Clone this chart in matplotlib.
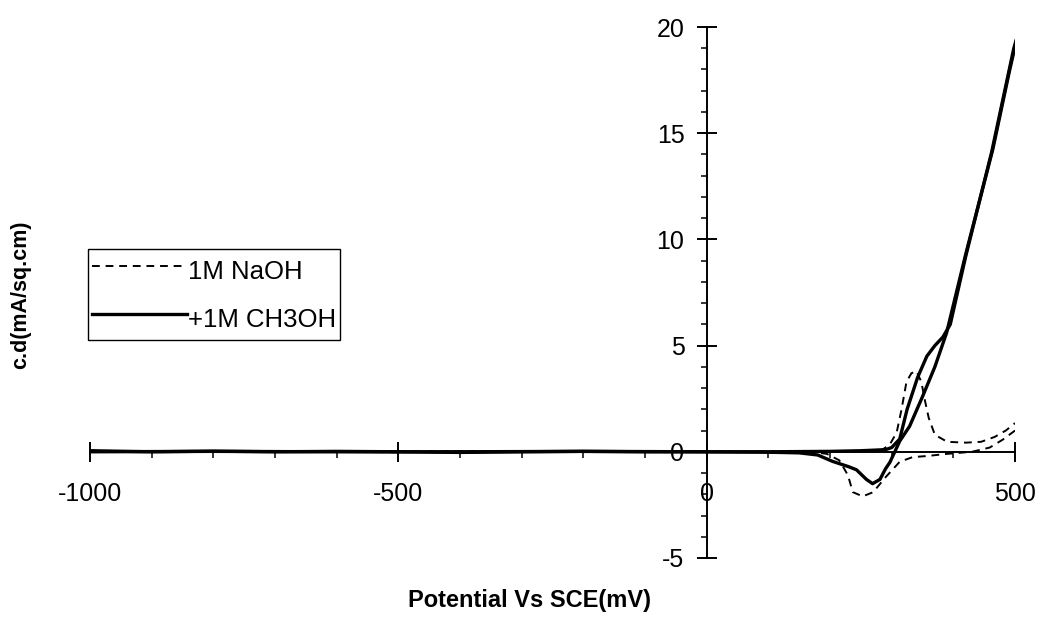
import matplotlib
matplotlib.use("Agg")
import matplotlib.pyplot as plt
from matplotlib.lines import Line2D
from matplotlib.ticker import MultipleLocator

plt.rcParams['font.family'] = ['Liberation Sans', 'DejaVu Sans']
plt.rcParams['axes.unicode_minus'] = False

# 1M NaOH, forward sweep
naoh_fwd_x = [-1000, -900, -800, -700, -600, -500, -400, -300, -200, -100, 0, 100, 200,
              260, 285, 297, 308, 316, 324, 332, 340, 348, 354, 360, 370, 390, 420,
              445, 467, 485, 500]
naoh_fwd_y = [0.05, 0.02, 0.0, 0.03, 0.0, -0.02, 0.02, 0.0, 0.02, 0.0, 0.0, 0.0, 0.0,
              0.02, 0.1, 0.35, 0.9, 2.0, 3.3, 3.7, 3.8, 3.3, 2.4, 1.6, 0.8, 0.47, 0.43,
              0.47, 0.7, 1.0, 1.35]
# 1M NaOH, reverse sweep
naoh_rev_x = [500, 480, 459, 430, 389, 357, 334, 313, 290, 270, 253, 237, 229, 215, 195,
              170, 100, 0, -200, -400, -600, -800, -1000]
naoh_rev_y = [1.0, 0.57, 0.2, 0.0, -0.1, -0.2, -0.25, -0.47, -1.2, -1.9, -2.1, -1.9, -1.1,
              -0.4, -0.1, 0.0, 0.0, 0.0, 0.0, 0.02, 0.0, 0.0, 0.0]

# +1M CH3OH, forward sweep
meoh_fwd_x = [-1000, -900, -800, -700, -600, -500, -400, -300, -200, -100, 0, 100, 150,
              180, 204, 230, 243, 259, 269, 281, 290, 297, 305, 313, 329, 350, 370, 389,
              420, 464, 490, 504]
meoh_fwd_y = [0.05, 0.0, 0.03, 0.0, 0.02, 0.0, -0.03, 0.0, 0.02, 0.0, 0.0, -0.02, -0.05,
              -0.15, -0.45, -0.7, -0.85, -1.3, -1.5, -1.3, -0.8, -0.5, 0.0, 0.5, 1.2, 2.6,
              4.0, 5.6, 9.3, 14.25, 17.8, 19.6]
# +1M CH3OH, reverse sweep
meoh_rev_x = [504, 498, 462, 420, 395, 383, 370, 357, 342, 325, 313, 300, 290, 250, 200,
              100, 0, -200, -400, -600, -800, -1000]
meoh_rev_y = [19.6, 19.0, 14.1, 9.2, 6.0, 5.4, 5.0, 4.5, 3.5, 2.0, 0.6, 0.2, 0.1, 0.05,
              0.02, 0.0, 0.0, 0.02, 0.0, 0.0, 0.02, 0.0]

x_ticks = [-1000, -500, 0, 500]
y_ticks = [-5, 0, 5, 10, 15, 20]

fig = plt.figure(figsize=(10.46, 6.24), dpi=100)
ax = fig.add_axes([0.086, 0.1058, 0.8844, 0.8509])

dash = dict(color='black', lw=1.4, dashes=[4, 3])
ax.plot(naoh_fwd_x, naoh_fwd_y, **dash)
ax.plot(naoh_rev_x, naoh_rev_y, **dash)
ax.plot(meoh_fwd_x, meoh_fwd_y, color='black', lw=2.4)
ax.plot(meoh_rev_x, meoh_rev_y, color='black', lw=2.4)

ax.set_xlim(-1000, 500)
ax.set_ylim(-5, 20)

ax.spines['left'].set_position(('data', 0))
ax.spines['bottom'].set_position(('data', 0))
ax.spines['top'].set_visible(False)
ax.spines['right'].set_visible(False)
for s in ('left', 'bottom'):
    ax.spines[s].set_linewidth(1.4)

ax.set_xticks(x_ticks)
ax.set_yticks(y_ticks)
ax.xaxis.set_minor_locator(MultipleLocator(100))
ax.yaxis.set_minor_locator(MultipleLocator(1))
ax.tick_params(which='major', direction='inout', length=14, width=1.4, labelsize=18)
ax.tick_params(axis='x', which='major', pad=15)
ax.tick_params(axis='y', which='major', pad=9)
ax.tick_params(which='minor', direction='out', length=4, width=1.1)

fig.text(0.506, 0.038, 'Potential Vs SCE(mV)', ha='center', va='center',
         fontsize=17, fontweight='bold')
fig.text(0.02, 0.527, 'c.d(mA/sq.cm)', ha='center', va='center', rotation=90,
         fontsize=15.5, fontweight='bold')

handles = [Line2D([], [], **dash), Line2D([], [], color='black', lw=2.4)]
leg = ax.legend(handles, ['1M NaOH', '+1M CH3OH'], loc='upper left',
                bbox_to_anchor=(0.084, 0.601), bbox_transform=fig.transFigure,
                borderaxespad=0, borderpad=0.15, handleheight=1.7, labelspacing=0.55,
                handlelength=3.7, handletextpad=0.05, fontsize=18.5,
                fancybox=False, framealpha=1, edgecolor='black')
leg.get_frame().set_linewidth(1.0)

fig.savefig('out.png', dpi=100)
